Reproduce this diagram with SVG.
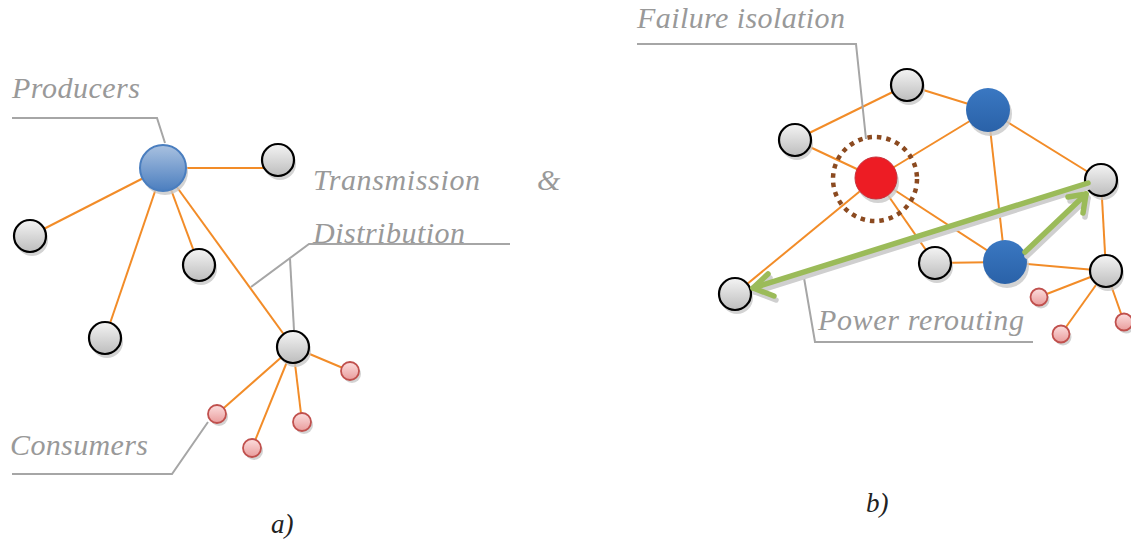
<svg xmlns="http://www.w3.org/2000/svg" width="1131" height="545" viewBox="0 0 1131 545">
<defs>
<linearGradient id="gGray" x1="0" y1="0" x2="0" y2="1"><stop offset="0" stop-color="#f4f4f4"/><stop offset="1" stop-color="#bdbdbd"/></linearGradient>
<linearGradient id="gBlueL" x1="0" y1="0" x2="0" y2="1"><stop offset="0" stop-color="#a9c1e0"/><stop offset="1" stop-color="#4b7ebf"/></linearGradient>
<linearGradient id="gBlueR" x1="0" y1="0" x2="0" y2="1"><stop offset="0" stop-color="#3a78c2"/><stop offset="1" stop-color="#2a62a8"/></linearGradient>
<linearGradient id="gPink" x1="0" y1="0" x2="0" y2="1"><stop offset="0" stop-color="#fcdede"/><stop offset="1" stop-color="#e99c9c"/></linearGradient>
</defs>
<style>
.lbl{font-family:"Liberation Serif","Times New Roman",serif;font-style:italic;fill:#999999;font-size:30px}
.cap{font-family:"Liberation Serif","Times New Roman",serif;font-style:italic;fill:#222;font-size:27px}
.lead{fill:none;stroke:#a6a6a6;stroke-width:2}
.edge{stroke:#f28c28;stroke-width:2;fill:none}
.sh{fill:#c8c8c8;opacity:0.8}
.gray{fill:url(#gGray);stroke:#000;stroke-width:2.2}
.pink{fill:url(#gPink);stroke:#c0504d;stroke-width:1.8}
.green{stroke:#9bbb59;stroke-width:5.5;fill:none;stroke-linecap:round;stroke-linejoin:round}
.gsh{stroke:#cfcfcf;stroke-width:5.5;fill:none;stroke-linecap:round;stroke-linejoin:round}
</style>
<g id="connectors">
<line class="edge" x1="163" y1="168" x2="278" y2="168"/>
<line class="edge" x1="163" y1="168" x2="30" y2="236"/>
<line class="edge" x1="163" y1="168" x2="105" y2="338"/>
<line class="edge" x1="163" y1="168" x2="199" y2="265"/>
<line class="edge" x1="163" y1="168" x2="293" y2="347"/>
<line class="edge" x1="293" y1="347" x2="350" y2="371"/>
<line class="edge" x1="293" y1="347" x2="217" y2="414"/>
<line class="edge" x1="293" y1="347" x2="302" y2="422"/>
<line class="edge" x1="293" y1="347" x2="252" y2="448"/>
<line class="edge" x1="795" y1="140" x2="907" y2="85"/>
<line class="edge" x1="907" y1="85" x2="988" y2="110"/>
<line class="edge" x1="795" y1="140" x2="876" y2="178"/>
<line class="edge" x1="876" y1="178" x2="988" y2="110"/>
<line class="edge" x1="988" y1="110" x2="1101" y2="180"/>
<line class="edge" x1="988" y1="110" x2="1005" y2="262"/>
<line class="edge" x1="876" y1="178" x2="935" y2="263"/>
<line class="edge" x1="876" y1="178" x2="1005" y2="262"/>
<line class="edge" x1="876" y1="178" x2="735" y2="294"/>
<line class="edge" x1="935" y1="263" x2="1005" y2="262"/>
<line class="edge" x1="1005" y1="262" x2="1106" y2="271"/>
<line class="edge" x1="1101" y1="180" x2="1106" y2="271"/>
<line class="edge" x1="1106" y1="271" x2="1039" y2="297"/>
<line class="edge" x1="1106" y1="271" x2="1061" y2="334"/>
<line class="edge" x1="1106" y1="271" x2="1124" y2="322"/>
</g>
<g id="leaders">
<polyline class="lead" points="12,118 157,118 165,143"/>
<polyline class="lead" points="510,244 309,244 251,287"/>
<line class="lead" x1="290" y1="259" x2="294" y2="330"/>
<polyline class="lead" points="12,474 172,474 208,422"/>
<polyline class="lead" points="637,44 856,44 866,139"/>
<polyline class="lead" points="803,272 815,342 1033,342"/>
</g>
<g id="n-producer"><circle class="sh" cx="165" cy="172" r="23"/><circle cx="163" cy="168" r="23" fill="url(#gBlueL)" stroke="#4a7ebf" stroke-width="2"/></g>
<g id="n-a1"><circle class="sh" cx="280" cy="164" r="16"/><circle class="gray" cx="278" cy="160" r="16"/></g>
<g id="n-a2"><circle class="sh" cx="32" cy="240" r="16"/><circle class="gray" cx="30" cy="236" r="16"/></g>
<g id="n-a3"><circle class="sh" cx="201" cy="269" r="16"/><circle class="gray" cx="199" cy="265" r="16"/></g>
<g id="n-a4"><circle class="sh" cx="107" cy="342" r="16"/><circle class="gray" cx="105" cy="338" r="16"/></g>
<g id="n-hub"><circle class="sh" cx="295" cy="351" r="16"/><circle class="gray" cx="293" cy="347" r="16"/></g>
<g id="n-c1"><circle class="sh" cx="352" cy="374" r="9"/><circle class="pink" cx="350" cy="371" r="9"/></g>
<g id="n-c2"><circle class="sh" cx="219" cy="417" r="9"/><circle class="pink" cx="217" cy="414" r="9"/></g>
<g id="n-c3"><circle class="sh" cx="304" cy="425" r="9"/><circle class="pink" cx="302" cy="422" r="9"/></g>
<g id="n-c4"><circle class="sh" cx="254" cy="451" r="9"/><circle class="pink" cx="252" cy="448" r="9"/></g>
<g id="n-b1"><circle class="sh" cx="909" cy="89" r="16"/><circle class="gray" cx="907" cy="85" r="16"/></g>
<g id="n-b2"><circle class="sh" cx="797" cy="144" r="16"/><circle class="gray" cx="795" cy="140" r="16"/></g>
<g id="n-b3"><circle class="sh" cx="1103" cy="184" r="16"/><circle class="gray" cx="1101" cy="180" r="16"/></g>
<g id="n-b4"><circle class="sh" cx="937" cy="267" r="16"/><circle class="gray" cx="935" cy="263" r="16"/></g>
<g id="n-b5"><circle class="sh" cx="1108" cy="275" r="16"/><circle class="gray" cx="1106" cy="271" r="16"/></g>
<g id="n-b6"><circle class="sh" cx="737" cy="298" r="16"/><circle class="gray" cx="735" cy="294" r="16"/></g>
<g id="n-blue1"><circle class="sh" cx="990" cy="114" r="22"/><circle cx="988" cy="110" r="22" fill="url(#gBlueR)"/></g>
<g id="n-blue2"><circle class="sh" cx="1007" cy="266" r="22"/><circle cx="1005" cy="262" r="22" fill="url(#gBlueR)"/></g>
<g id="n-fail"><circle class="sh" cx="878" cy="182" r="21"/><circle cx="876" cy="178" r="21" fill="#ed1c24" stroke="#c8303a" stroke-width="1"/>
<circle cx="875" cy="179" r="42" fill="none" stroke="#8b4a20" stroke-width="4.5" stroke-dasharray="4.5 5"/></g>
<g id="n-d1"><circle class="sh" cx="1041" cy="300" r="8.5"/><circle class="pink" cx="1039" cy="297" r="8.5"/></g>
<g id="n-d2"><circle class="sh" cx="1063" cy="337" r="8.5"/><circle class="pink" cx="1061" cy="334" r="8.5"/></g>
<g id="n-d3"><circle class="sh" cx="1126" cy="325" r="8.5"/><circle class="pink" cx="1124" cy="322" r="8.5"/></g>
<g id="arrows">
<polyline class="gsh" points="1089,187 755,292"/>
<polyline class="gsh" points="770,278 755,292 776,300"/>
<polyline class="gsh" points="1027,256 1088,198"/>
<polyline class="gsh" points="1070,201 1088,198 1085,217"/>
<polyline class="green" points="1088,183 753,288"/>
<polyline class="green" points="768,274 753,288 774,296"/>
<polyline class="green" points="1025,252 1086,194"/>
<polyline class="green" points="1068,197 1086,194 1083,213"/>
</g>
<g id="labels">
<text class="lbl" x="12" y="98" textLength="128">Producers</text>
<text class="lbl" x="313" y="190" textLength="167">Transmission</text>
<text class="lbl" x="537" y="190">&amp;</text>
<text class="lbl" x="313" y="243" textLength="152">Distribution</text>
<text class="lbl" x="10" y="455" textLength="138">Consumers</text>
<text class="lbl" x="637" y="28" textLength="208">Failure isolation</text>
<text class="lbl" x="818" y="330" textLength="206">Power rerouting</text>
<text class="cap" x="271" y="533">a)</text>
<text class="cap" x="866" y="512">b)</text>
</g>
</svg>
